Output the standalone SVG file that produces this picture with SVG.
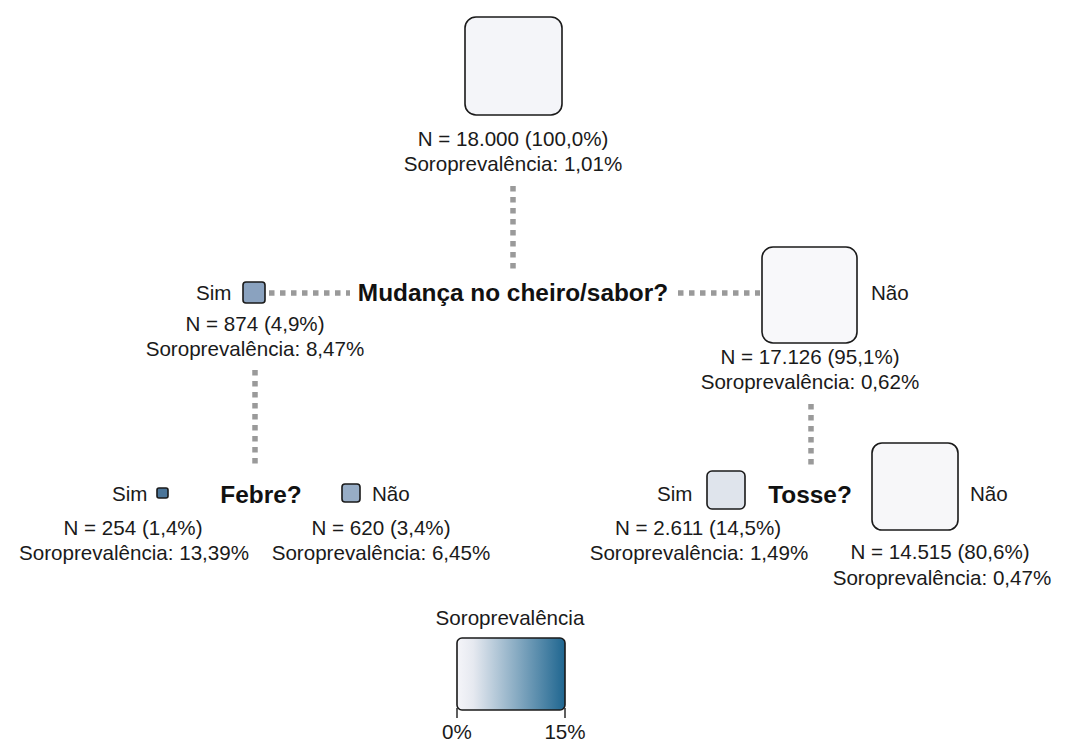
<svg xmlns="http://www.w3.org/2000/svg" width="1068" height="742" viewBox="0 0 1068 742">
<defs>
<style>
.t{font-family:"Liberation Sans",Arial,sans-serif;font-size:20.6px;fill:#1a1a1a}
.m{text-anchor:middle}
.q{font-family:"Liberation Sans",Arial,sans-serif;font-size:24.4px;font-weight:bold;fill:#111;text-anchor:middle}
.box{stroke:#1a1a1a;stroke-width:1.6}
.dot{stroke:#9a9a9a;stroke-width:5.5;stroke-dasharray:5.5 5.5;fill:none}
</style>
<linearGradient id="grad" x1="0" y1="0" x2="1" y2="0">
<stop offset="0" stop-color="#f5f5f9"/>
<stop offset="0.15" stop-color="#e6e9f0"/>
<stop offset="1" stop-color="#1f6690"/>
</linearGradient>
</defs>
<rect width="1068" height="742" fill="#ffffff"/>
<g id="connectors">
<line class="dot" x1="513" y1="186" x2="513" y2="270"/>
<line class="dot" x1="269" y1="293" x2="350" y2="293"/>
<line class="dot" x1="678" y1="293" x2="760" y2="293"/>
<line class="dot" x1="255" y1="370" x2="255" y2="466"/>
<line class="dot" x1="811" y1="404" x2="811" y2="466"/>
</g>
<g id="root">
<rect class="box" x="465" y="17" width="97" height="98" rx="11" fill="#f4f5f9"/>
<text class="t m" x="513" y="146">N = 18.000 (100,0%)</text>
<text class="t m" x="513" y="171">Soroprevalência: 1,01%</text>
</g>
<g id="q1">
<text class="q" x="513" y="301">Mudança no cheiro/sabor?</text>
</g>
<g id="n1-sim">
<text class="t" x="196" y="300">Sim</text>
<rect class="box" x="243" y="282" width="22" height="21" rx="3" fill="#8aa2bf"/>
<text class="t m" x="255" y="331">N = 874 (4,9%)</text>
<text class="t m" x="255" y="356">Soroprevalência: 8,47%</text>
</g>
<g id="n1-nao">
<rect class="box" x="762" y="247" width="95" height="96" rx="11" fill="#f8f8fa"/>
<text class="t" x="871" y="300">Não</text>
<text class="t m" x="810" y="364">N = 17.126 (95,1%)</text>
<text class="t m" x="810" y="389">Soroprevalência: 0,62%</text>
</g>
<g id="q2">
<text class="q" x="261" y="503">Febre?</text>
</g>
<g id="n2-sim">
<text class="t" x="112" y="501">Sim</text>
<rect class="box" x="157" y="488" width="11" height="10" rx="2" fill="#4b7599"/>
<text class="t m" x="133" y="535">N = 254 (1,4%)</text>
<text class="t m" x="134" y="560">Soroprevalência: 13,39%</text>
</g>
<g id="n2-nao">
<rect class="box" x="342" y="484" width="18" height="18" rx="3" fill="#97adc6"/>
<text class="t" x="372" y="501">Não</text>
<text class="t m" x="381" y="535">N = 620 (3,4%)</text>
<text class="t m" x="381" y="560">Soroprevalência: 6,45%</text>
</g>
<g id="q3">
<text class="q" x="810" y="503">Tosse?</text>
</g>
<g id="n3-sim">
<text class="t" x="657" y="501">Sim</text>
<rect class="box" x="707" y="471" width="38" height="38" rx="5" fill="#dfe4ec"/>
<text class="t m" x="698" y="535">N = 2.611 (14,5%)</text>
<text class="t m" x="699" y="560">Soroprevalência: 1,49%</text>
</g>
<g id="n3-nao">
<rect class="box" x="872" y="443" width="86" height="87" rx="10" fill="#f7f7f9"/>
<text class="t" x="970" y="501">Não</text>
<text class="t m" x="940" y="559">N = 14.515 (80,6%)</text>
<text class="t m" x="942" y="585">Soroprevalência: 0,47%</text>
</g>
<g id="legend">
<text class="t m" x="510" y="625">Soroprevalência</text>
<rect class="box" x="457" y="638" width="108" height="72" rx="5" fill="url(#grad)"/>
<line x1="457" y1="708" x2="457" y2="718" stroke="#1a1a1a" stroke-width="1.4"/>
<line x1="565" y1="708" x2="565" y2="718" stroke="#1a1a1a" stroke-width="1.4"/>
<text class="t m" x="457" y="739">0%</text>
<text class="t m" x="565" y="739">15%</text>
</g>
</svg>
